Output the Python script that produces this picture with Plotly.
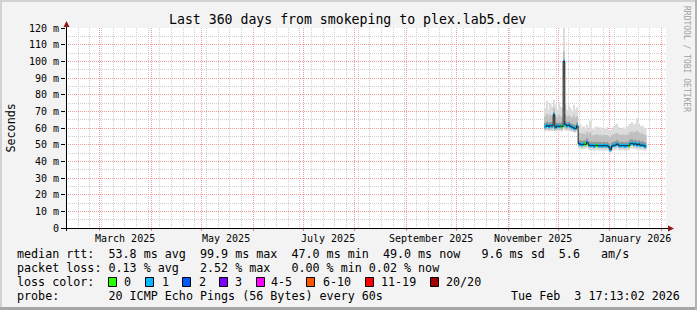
import plotly.graph_objects as go
import pandas as pd

# ---------------- data ----------------
title_text = "Last 360 days from smokeping to plex.lab5.dev"
t_start = "2025-02-08 17:13:02"
t_end = "2026-02-03 17:13:02"

# one consolidated sample per day (data only exists from late Nov 2025)
dates = pd.date_range("2025-11-23 12:00", periods=61, freq="D")

median_ms = [60.8, 61.6, 60.9, 61.5, 61.2, 68.0, 60.4, 61.2, 61.0, 61.2,
             60.8, 99.9, 62.0, 61.4, 61.8, 61.0, 60.5, 60.0, 59.7, 61.2,
             50.6, 50.2, 50.0, 50.3, 50.2, 51.4, 49.8, 49.4, 49.6, 49.2,
             49.5, 49.6, 49.3, 49.4, 49.2, 49.5, 49.3, 49.4, 48.6, 47.0,
             49.2, 49.6, 49.8, 50.4, 49.6, 49.3, 49.5, 49.4, 49.2, 49.5,
             49.4, 50.6, 50.8, 50.2, 50.6, 49.8, 50.4, 49.6, 49.8, 49.4,
             49.0]

ping_min = [58.0, 58.4, 58.1, 58.3, 58.2, 58.5, 57.9, 58.2, 58.1, 58.2,
            58.0, 60.0, 58.5, 58.3, 58.4, 58.1, 57.7, 57.4, 57.2, 58.2,
            47.6, 47.3, 47.1, 47.4, 47.3, 48.0, 46.9, 46.6, 46.8, 46.4,
            46.7, 46.8, 46.5, 46.6, 46.4, 46.7, 46.5, 46.6, 45.9, 44.8,
            46.4, 46.8, 47.0, 47.4, 46.8, 46.5, 46.7, 46.6, 46.4, 46.7,
            46.6, 47.6, 47.8, 47.3, 47.6, 46.9, 47.4, 46.8, 47.0, 46.6,
            46.3]

ping_p10 = [58.8, 59.3, 58.9, 59.2, 59.0, 60.0, 58.6, 59.0, 58.9, 59.0,
            58.8, 70.0, 59.5, 59.2, 59.4, 58.9, 58.5, 58.1, 57.9, 59.0,
            49.0, 48.6, 48.4, 48.7, 48.6, 49.6, 48.2, 47.9, 48.1, 47.7,
            48.0, 48.1, 47.8, 47.9, 47.7, 48.0, 47.8, 47.9, 47.2, 45.8,
            47.7, 48.1, 48.3, 48.8, 48.1, 47.8, 48.0, 47.9, 47.7, 48.0,
            47.9, 49.0, 49.2, 48.6, 49.0, 48.2, 48.8, 48.1, 48.3, 47.9,
            47.5]

ping_p30 = [59.8, 60.5, 59.9, 60.3, 60.1, 63.0, 59.5, 60.1, 60.0, 60.1,
            59.8, 90.0, 60.8, 60.3, 60.6, 60.0, 59.5, 59.0, 58.8, 60.1,
            49.9, 49.5, 49.3, 49.6, 49.5, 50.6, 49.1, 48.7, 48.9, 48.5,
            48.8, 48.9, 48.6, 48.7, 48.5, 48.8, 48.6, 48.7, 47.9, 46.4,
            48.5, 48.9, 49.1, 49.7, 48.9, 48.6, 48.8, 48.7, 48.5, 48.8,
            48.7, 49.9, 50.1, 49.5, 49.9, 49.1, 49.7, 48.9, 49.1, 48.7,
            48.3]

ping_p70 = [63.0, 63.8, 63.0, 63.5, 63.2, 69.5, 62.8, 63.3, 63.0, 63.3,
            62.9, 101.0, 64.0, 63.4, 63.8, 63.0, 62.5, 62.0, 61.8, 63.2,
            53.0, 52.5, 52.2, 52.6, 52.3, 53.6, 52.0, 51.6, 51.8, 51.3,
            51.7, 51.8, 51.4, 51.6, 51.3, 51.7, 51.4, 51.6, 50.8, 49.5,
            51.4, 51.8, 52.1, 52.7, 51.8, 51.5, 51.7, 51.6, 51.3, 51.7,
            51.6, 53.0, 53.2, 52.5, 53.0, 52.1, 52.7, 51.8, 52.1, 51.6,
            51.2]

ping_p90 = [67.0, 68.5, 66.5, 68.0, 67.0, 72.0, 67.5, 66.5, 68.0, 67.0,
            66.5, 106.0, 68.0, 67.0, 67.5, 66.5, 66.0, 67.5, 66.0, 67.0,
            57.5, 57.0, 56.5, 56.8, 56.2, 57.8, 56.0, 57.5, 55.8, 55.4,
            55.9, 56.2, 55.6, 55.9, 55.5, 56.0, 55.6, 55.8, 55.0, 54.5,
            55.6, 56.3, 56.6, 57.0, 56.2, 55.8, 56.0, 55.9, 55.5, 56.0,
            56.1, 57.4, 58.0, 57.2, 57.8, 58.5, 57.4, 56.6, 56.8, 56.3,
            55.8]

ping_max = [72.0, 76.5, 71.0, 75.0, 73.0, 76.8, 74.0, 71.0, 75.0, 73.0,
            72.0, 120.0, 74.0, 71.0, 73.5, 72.0, 70.5, 74.0, 71.0, 72.5,
            61.5, 62.5, 60.5, 61.0, 60.0, 62.0, 59.5, 64.5, 60.0, 59.0,
            60.5, 61.0, 59.5, 60.5, 59.0, 60.0, 59.5, 60.5, 59.0, 58.5,
            59.5, 61.0, 62.0, 62.5, 60.5, 59.5, 60.0, 60.5, 59.5, 61.0,
            61.5, 62.5, 63.5, 62.0, 62.5, 66.0, 62.5, 61.0, 61.5, 60.5,
            60.0]

loss_pct = [0.10, 0.15, 0.10, 0.20, 0.10, 0.30, 0.10, 0.15, 0.10, 0.10,
            0.00, 2.52, 0.20, 0.10, 0.15, 0.10, 0.10, 0.15, 0.20, 0.10,
            0.15, 0.10, 0.10, 0.10, 0.00, 0.20, 0.10, 0.10, 0.10, 0.10,
            0.10, 0.00, 0.10, 0.10, 0.10, 0.10, 0.10, 0.10, 0.15, 0.20,
            0.10, 0.10, 0.10, 0.15, 0.10, 0.10, 0.10, 0.10, 0.10, 0.10,
            0.00, 0.10, 0.15, 0.10, 0.10, 0.10, 0.10, 0.10, 0.10, 0.10,
            0.02]

pings_per_round = 20

y_tick_vals = [0, 10, 20, 30, 40, 50, 60, 70, 80, 90, 100, 110, 120]
y_tick_text = ["0", "10 m", "20 m", "30 m", "40 m", "50 m", "60 m", "70 m",
               "80 m", "90 m", "100 m", "110 m", "120 m"]

month_label_dates = ["2025-03-16", "2025-05-16", "2025-07-16",
                     "2025-09-16", "2025-11-16", "2026-01-16"]
month_label_text = ["March 2025", "May 2025", "July 2025",
                    "September 2025", "November 2025", "January 2026"]

loss_labels = ["0", "1", "2", "3", "4-5", "6-10", "11-19", "20/20"]
loss_upper = [0, 1, 2, 3, 5, 10, 19, 20]
loss_colors = ["#26ff00", "#00b8ff", "#0059ff", "#7e00ff",
               "#ff00ff", "#ff5500", "#ff0000", "#a10000"]

legend_line1 = "median rtt:  53.8 ms avg  99.9 ms max  47.0 ms min  49.0 ms now   9.6 ms sd  5.6   am/s"
legend_line2 = "packet loss: 0.13 % avg   2.52 % max   0.00 % min 0.02 % now"
legend_line3 = "loss color:"
legend_line4 = "probe:       20 ICMP Echo Pings (56 Bytes) every 60s"
legend_stamp = "Tue Feb  3 17:13:02 2026"
watermark = "RRDTOOL / TOBI OETIKER"

# ---------------- geometry ----------------
W, H = 697, 310
L, R, T, B = 66, 31, 28, 82
PW, PH = W - L - R, H - T - B
FONT = "DejaVu Sans Mono"


def px(x):
    return (x - L) / PW


def py(y):
    return (T + PH - y) / PH


DAY = 86400000

fig = go.Figure()

# smoke
def band(lo, hi, color):
    fig.add_trace(go.Bar(
        x=dates, y=[h - l for l, h in zip(lo, hi)], base=lo, width=DAY,
        marker=dict(color=color, line=dict(width=0)), hoverinfo="skip",
        showlegend=False))


band(ping_min, ping_max, "#dcdcdc")
band(ping_p10, ping_p90, "#c0c0c0")
band(ping_p30, ping_p70, "#969696")

# median line
fig.add_trace(go.Scatter(x=dates, y=median_ms, mode="lines",
                         line=dict(color="#202020", width=1, shape="hvh"),
                         hoverinfo="skip", showlegend=False))


def loss_color(p):
    lost = p * pings_per_round / 100.0
    for up, c in zip(loss_upper, loss_colors):
        if lost <= up:
            return c
    return loss_colors[-1]


fig.add_trace(go.Bar(
    x=dates, y=[2.0] * len(median_ms), base=[m - 1.0 for m in median_ms],
    width=DAY * 0.9,
    marker=dict(color=[loss_color(p) for p in loss_pct], line=dict(width=0)),
    hoverinfo="skip", showlegend=False))

grid_major = "#f09a9a"
grid_minor = "#cfcfcf"

fig.update_layout(
    width=W, height=H, margin=dict(l=L, r=R, t=T, b=B),
    paper_bgcolor="#f3f3f3", plot_bgcolor="#ffffff",
    barmode="overlay", showlegend=False,
    font=dict(family=FONT, color="#000000"),
    xaxis=dict(
        range=[t_start, t_end], type="date",
        tickmode="array",
        tickvals=list(pd.date_range("2025-03-01", "2026-02-01", freq="MS")),
        showticklabels=False, ticks="outside", ticklen=2, tickcolor="#e08080",
        showgrid=True, gridcolor=grid_major, griddash="1px,1px", gridwidth=1,
        minor=dict(tickmode="array",
                   tickvals=list(pd.date_range("2025-02-09", "2026-02-03", freq="7D")),
                   showgrid=True, gridcolor=grid_minor, griddash="1px,1px",
                   gridwidth=1),
        showline=False, zeroline=False, fixedrange=True,
    ),
    yaxis=dict(
        range=[0, 120], tickmode="array", tickvals=y_tick_vals,
        ticktext=y_tick_text, tickfont=dict(family=FONT, size=10),
        ticks="outside", ticklen=4, tickcolor="#000000",
        showgrid=True, gridcolor=grid_major, griddash="1px,1px", gridwidth=1,
        minor=dict(dtick=5, showgrid=True, gridcolor=grid_minor,
                   griddash="1px,1px", gridwidth=1),
        showline=False, zeroline=False, fixedrange=True,
    ),
)

ann = []
ann.append(dict(text=title_text, x=px(347.5), y=py(19.5), xref="paper",
                yref="paper", xanchor="center", yanchor="middle",
                showarrow=False, font=dict(family=FONT, size=13.2)))
ann.append(dict(text="Seconds", x=px(10.5), y=py(128), xref="paper",
                yref="paper", xanchor="center", yanchor="middle",
                textangle=-90, showarrow=False,
                font=dict(family=FONT, size=11.7)))
ann.append(dict(text=watermark, x=px(687), y=py(59), xref="paper",
                yref="paper", xanchor="center", yanchor="middle",
                textangle=90, showarrow=False,
                font=dict(family=FONT, size=8, color="#a0a0a0")))
for d, t in zip(month_label_dates, month_label_text):
    ann.append(dict(text=t, x=d, y=py(238), xref="x", yref="paper",
                    xanchor="center", yanchor="middle", showarrow=False,
                    font=dict(family=FONT, size=10)))

for txt, yy in [(legend_line1, 254), (legend_line2, 268), (legend_line3, 282),
                (legend_line4, 296)]:
    ann.append(dict(text=txt.replace(" ", "&nbsp;"), x=px(16), y=py(yy),
                    xref="paper", yref="paper", xanchor="left",
                    yanchor="middle", showarrow=False, borderpad=0,
                    font=dict(family=FONT, size=11.7)))
ann.append(dict(text=legend_stamp.replace(" ", "&nbsp;"), x=px(681),
                y=py(296), xref="paper", yref="paper", xanchor="right",
                yanchor="middle", showarrow=False, borderpad=0,
                font=dict(family=FONT, size=11.7)))

box_left = [108, 145, 182, 219, 256, 306, 365, 430]
label_left = [122.5, 160.5, 198, 233.5, 270, 322, 380, 445]
shapes = []
for bx, lx, lab, col in zip(box_left, label_left, loss_labels, loss_colors):
    shapes.append(dict(type="rect", xref="paper", yref="paper",
                       x0=px(bx + 0.5), x1=px(bx + 8.5), y0=py(277.5),
                       y1=py(286.5), fillcolor=col,
                       line=dict(color="#000000", width=1)))
    ann.append(dict(text=lab, x=px(lx), y=py(282), xref="paper",
                    yref="paper", xanchor="left", yanchor="middle",
                    showarrow=False, borderpad=0,
                    font=dict(family=FONT, size=11.7)))

# axes with arrows
shapes.append(dict(type="line", xref="paper", yref="paper", x0=px(66.5),
                   x1=px(66.5), y0=py(231), y1=py(25),
                   line=dict(color="#000000", width=1)))
shapes.append(dict(type="line", xref="paper", yref="paper", x0=px(62),
                   x1=px(670), y0=py(228.5), y1=py(228.5),
                   line=dict(color="#000000", width=1)))
shapes.append(dict(type="path", xref="paper", yref="paper",
                   path=f"M {px(63.5)} {py(27)} L {px(69.5)} {py(27)} L {px(66.5)} {py(21)} Z",
                   fillcolor="#8c1c1c", line=dict(width=0)))
shapes.append(dict(type="path", xref="paper", yref="paper",
                   path=f"M {px(668)} {py(225.5)} L {px(668)} {py(231.5)} L {px(674)} {py(228.5)} Z",
                   fillcolor="#8c1c1c", line=dict(width=0)))

# frame shading
shapes.append(dict(type="rect", xref="paper", yref="paper", x0=px(0),
                   x1=px(W), y0=py(0), y1=py(2), fillcolor="#d2d2d2",
                   line=dict(width=0)))
shapes.append(dict(type="rect", xref="paper", yref="paper", x0=px(0),
                   x1=px(2), y0=py(0), y1=py(H), fillcolor="#d2d2d2",
                   line=dict(width=0)))
shapes.append(dict(type="rect", xref="paper", yref="paper", x0=px(0),
                   x1=px(W), y0=py(H - 3), y1=py(H), fillcolor="#a6a6a6",
                   line=dict(width=0)))
shapes.append(dict(type="rect", xref="paper", yref="paper", x0=px(W - 2),
                   x1=px(W), y0=py(0), y1=py(H), fillcolor="#b4b4b4",
                   line=dict(width=0)))

fig.update_layout(annotations=ann, shapes=shapes)
fig.write_html("out.html")
